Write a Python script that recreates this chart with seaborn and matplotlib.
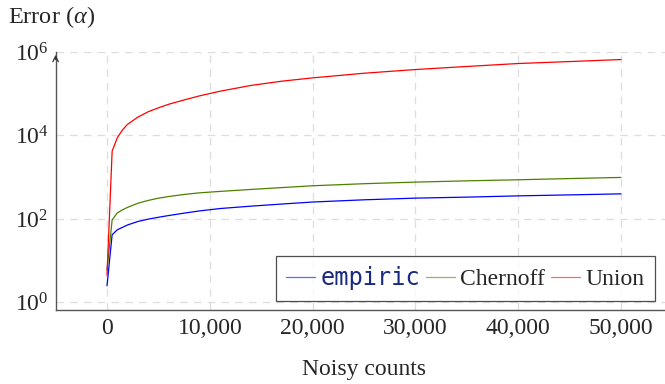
import pandas as pd
import seaborn as sns
import matplotlib.pyplot as plt
import numpy as np

# noisy counts (x) and error values
counts = [0, 500, 1000, 1500, 2000, 3000, 4000, 5000, 6000, 7500, 9000, 11000,
          14000, 17000, 20000, 25000, 30000, 35000, 40000, 45000, 50000]
empiric = [2.5, 42, 55, 63, 72, 87, 99, 110, 121, 138, 156, 178,
           203, 228, 255, 288, 316, 334, 358, 378, 400]
chernoff = [6, 95, 140, 165, 190, 238, 278, 315, 345, 387, 423, 458,
            510, 565, 625, 700, 765, 820, 870, 930, 990]
union = [4.5, 4200, 8800, 13500, 18500, 27500, 37000, 46000, 56000, 71000, 89000, 115000,
         158000, 200000, 240000, 310000, 380000, 450000, 530000, 590000, 660000]

xticks = [0, 10000, 20000, 30000, 40000, 50000]
xtick_labels = ["0", "10,000", "20,000", "30,000", "40,000", "50,000"]
yticks = [1, 1e2, 1e4, 1e6]
ytick_labels = [r"$10^{0}$", r"$10^{2}$", r"$10^{4}$", r"$10^{6}$"]

sns.set_style("white")
plt.rcParams['font.family'] = ['Liberation Serif', 'DejaVu Serif']
plt.rcParams['mathtext.fontset'] = 'custom'
plt.rcParams['mathtext.rm'] = 'Liberation Serif'
plt.rcParams['mathtext.it'] = 'Liberation Serif:italic'

fig = plt.figure(figsize=(6.65, 3.84), dpi=100)
ax = fig.add_axes([55.6 / 665, 74 / 384, 616.8 / 665, 258 / 384])

sns.lineplot(x=counts, y=empiric, color="#0000ff", lw=0.9, label="empiric", ax=ax)
sns.lineplot(x=counts, y=chernoff, color="#4d8000", lw=0.9, label="Chernoff", ax=ax)
sns.lineplot(x=counts, y=union, color="#ff0000", lw=0.9, label="Union", ax=ax)

ax.set_yscale("log")
ax.set_xlim(-5000, 55000)
ax.set_ylim(10 ** -0.18, 1e6)
ax.set_xticks(xticks)
ax.set_xticklabels(xtick_labels)
ax.set_yticks(yticks)
ax.set_yticklabels(ytick_labels)
ax.minorticks_off()
ax.tick_params(labelsize=17, direction="in", length=4, color="#777777", pad=6)
ax.tick_params(axis="y", pad=5)

ax.grid(True, color="#dddddd", ls=(0, (6, 5)), lw=0.9)
ax.spines["top"].set_visible(False)
ax.spines["right"].set_visible(False)
for s in ["left", "bottom"]:
    ax.spines[s].set_color("#555555")
    ax.spines[s].set_linewidth(1.0)
ax.annotate("", xy=(0, 1.0), xytext=(0, 0.96), xycoords="axes fraction",
            arrowprops=dict(arrowstyle="->", lw=0.9, color="#333333"))

ax.set_xlabel("Noisy counts", fontsize=17, labelpad=14)
ax.set_ylabel("")
fig.text(8 / 665, 1 - 17 / 384, r"Error ($\alpha$)", fontsize=17.5, va="center", ha="left")

leg = ax.legend(ncol=3, loc="lower right", bbox_to_anchor=(0.972, 0.035),
                fontsize=17, frameon=True, fancybox=False, edgecolor="#222222",
                handlelength=1.2, handletextpad=0.25,
                columnspacing=0.25, borderpad=0.45, borderaxespad=0)
leg.get_frame().set_linewidth(0.9)
for line in leg.get_lines():
    line.set_alpha(0.6)
t = leg.get_texts()[0]
t.set_family("DejaVu Sans Mono")
t.set_color("#1a2a80")

fig.savefig("out.png", dpi=100)
